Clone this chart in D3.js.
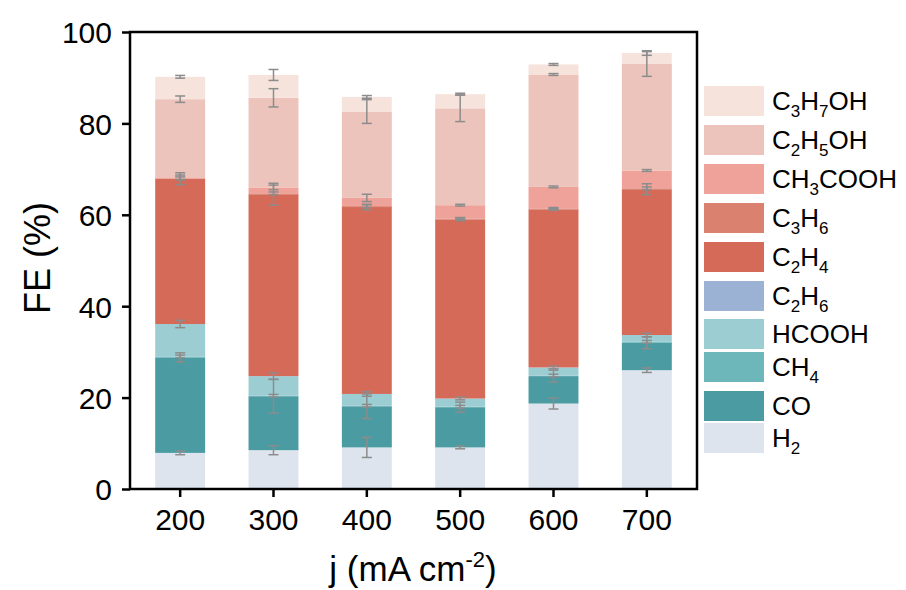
<!DOCTYPE html>
<html>
<head>
<meta charset="utf-8">
<script src="https://cdn.jsdelivr.net/npm/d3@7"></script>
<style>
  body { margin: 0; background: #fff; }
  text { font-family: "Liberation Sans", Arial, sans-serif; fill: #000; }
</style>
</head>
<body>
<div id="chart"></div>
<script>
// current densities
var categories = ["200", "300", "400", "500", "600", "700"];

// FE values (%) per product, bottom to top
var H2      = [7.9, 8.5, 9.1, 9.1, 18.7, 26.0];
var CO      = [20.9, 11.8, 9.0, 8.8, 6.0, 6.0];
var CH4     = [0.2, 0.1, 0.1, 0.1, 0.1, 0.2];
var HCOOH   = [7.1, 4.3, 2.6, 1.8, 1.8, 1.5];
var C2H6    = [0, 0, 0, 0, 0, 0];
var C2H4    = [31.8, 39.8, 40.9, 39.2, 34.6, 31.9];
var C3H6    = [0.1, 0.2, 0.2, 0.2, 0.2, 0.2];
var CH3COOH = [0.2, 1.3, 1.8, 2.9, 4.7, 3.9];
var C2H5OH  = [17.1, 19.6, 18.9, 21.2, 24.6, 23.3];
var C3H7OH  = [4.9, 5.0, 3.2, 3.1, 2.2, 2.4];

// error bars (±) at the top of each segment
var H2_err      = [0.4, 1.0, 2.2, 0.3, 1.2, 0.5];
var CO_err      = [1.0, 3.7, 2.7, 1.1, 1.3, 1.3];
var CH4_err     = [0.3, 0.3, 0.3, 0.3, 0.3, 0.3];
var HCOOH_err   = [0.8, 0.7, 0.5, 0.3, 0.3, 0.4];
var C2H6_err    = [0, 0, 0, 0, 0, 0];
var C2H4_err    = [1.3, 2.4, 0.6, 0.3, 0.2, 1.2];
var C3H6_err    = [0.3, 0.3, 0.3, 0.2, 0.2, 0.3];
var CH3COOH_err = [0.5, 0.5, 0.8, 0.2, 0.2, 0.2];
var C2H5OH_err  = [0.7, 2.0, 2.6, 2.9, 0.2, 2.7];
var C3H7OH_err  = [0.3, 1.2, 0.3, 0.2, 0.2, 0.5];

var yTicks = [0, 20, 40, 60, 80, 100];

// label parts: [text, isSubscript]
var series = [
    {key: "H2",      label: [["H",0],["2",1]],                         color: "#dee4ed", values: H2,      err: H2_err},
    {key: "CO",      label: [["CO",0]],                                color: "#4a9ba2", values: CO,      err: CO_err},
    {key: "CH4",     label: [["CH",0],["4",1]],                        color: "#6db6b9", values: CH4,     err: CH4_err},
    {key: "HCOOH",   label: [["HCOOH",0]],                             color: "#9ccdd3", values: HCOOH,   err: HCOOH_err},
    {key: "C2H6",    label: [["C",0],["2",1],["H",0],["6",1]],         color: "#9bb2d4", values: C2H6,    err: C2H6_err},
    {key: "C2H4",    label: [["C",0],["2",1],["H",0],["4",1]],         color: "#d56a58", values: C2H4,    err: C2H4_err},
    {key: "C3H6",    label: [["C",0],["3",1],["H",0],["6",1]],         color: "#db8170", values: C3H6,    err: C3H6_err},
    {key: "CH3COOH", label: [["CH",0],["3",1],["COOH",0]],             color: "#efa299", values: CH3COOH, err: CH3COOH_err},
    {key: "C2H5OH",  label: [["C",0],["2",1],["H",0],["5",1],["OH",0]], color: "#ecc4bb", values: C2H5OH,  err: C2H5OH_err},
    {key: "C3H7OH",  label: [["C",0],["3",1],["H",0],["7",1],["OH",0]], color: "#f6e4dc", values: C3H7OH,  err: C3H7OH_err}
];

// legend row centres (top to bottom: C3H7OH ... H2)
var legendY = [101, 140, 179, 218, 257, 296, 334, 367, 406, 438];

function drawChart() {
    var width = 906, height = 590;
    var mLeft = 130, mRight = 697, mTop = 32, mBottom = 489;

    var svg = d3.select("#chart").append("svg")
        .attr("width", width)
        .attr("height", height);

    var x = d3.scaleBand()
        .domain(categories)
        .range([mLeft, mRight])
        .paddingInner(0.465)
        .paddingOuter(0.27);

    var y = d3.scaleLinear()
        .domain([0, 100])
        .range([mBottom, mTop]);

    // stack the series
    var rows = categories.map(function(c, i) {
        var r = {cat: c};
        series.forEach(function(s) { r[s.key] = s.values[i]; });
        return r;
    });
    var stack = d3.stack().keys(series.map(function(s) { return s.key; }))(rows);

    var layers = svg.append("g").selectAll("g")
        .data(stack)
        .enter().append("g")
        .attr("fill", function(d, i) { return series[i].color; });

    layers.selectAll("rect")
        .data(function(d) { return d; })
        .enter().append("rect")
        .attr("x", function(d) { return x(d.data.cat); })
        .attr("width", x.bandwidth())
        .attr("y", function(d) { return y(d[1]); })
        .attr("height", function(d) { return y(d[0]) - y(d[1]); });

    // error bars
    var errG = svg.append("g")
        .attr("stroke", "#8c8c8c")
        .attr("stroke-width", 1.5)
        .attr("fill", "none");

    stack.forEach(function(layer, si) {
        var s = series[si];
        if (d3.max(s.values) === 0) return;
        layer.forEach(function(d, i) {
            var cx = x(d.data.cat) + x.bandwidth() / 2;
            var e = s.err[i];
            var y0 = y(d[1] - e), y1 = y(d[1] + e);
            errG.append("line").attr("x1", cx).attr("x2", cx).attr("y1", y0).attr("y2", y1);
            errG.append("line").attr("x1", cx - 5).attr("x2", cx + 5).attr("y1", y0).attr("y2", y0);
            errG.append("line").attr("x1", cx - 5).attr("x2", cx + 5).attr("y1", y1).attr("y2", y1);
        });
    });

    // frame
    svg.append("rect")
        .attr("x", mLeft).attr("y", mTop)
        .attr("width", mRight - mLeft).attr("height", mBottom - mTop)
        .attr("fill", "none")
        .attr("stroke", "#000")
        .attr("stroke-width", 2.5);

    // axes
    var yAxis = svg.append("g")
        .attr("transform", "translate(" + mLeft + ",0)")
        .call(d3.axisLeft(y).tickValues(yTicks).tickSize(8).tickPadding(10));

    var xAxis = svg.append("g")
        .attr("transform", "translate(0," + mBottom + ")")
        .call(d3.axisBottom(x).tickSize(8));

    [yAxis, xAxis].forEach(function(a) {
        a.select(".domain").remove();
        a.selectAll(".tick line").attr("stroke", "#000").attr("stroke-width", 2.5);
        a.selectAll(".tick text")
            .attr("fill", "#000")
            .style("font-family", "'Liberation Sans', Arial, sans-serif")
            .style("font-size", "30px");
    });
    yAxis.selectAll(".tick text").attr("dy", "0.36em");
    xAxis.selectAll(".tick text").attr("y", 41).attr("dy", 0);

    // axis titles
    svg.append("text")
        .attr("transform", "translate(50,258) rotate(-90)")
        .attr("text-anchor", "middle")
        .style("font-size", "36px")
        .text("FE (%)");

    var xt = svg.append("text")
        .attr("x", 413).attr("y", 581)
        .attr("text-anchor", "middle")
        .style("font-size", "35px");
    xt.append("tspan").text("j (mA cm");
    xt.append("tspan").attr("dy", -14).style("font-size", "22px").text("-2");
    xt.append("tspan").attr("dy", 14).text(")");

    // legend
    var legendSeries = series.slice().reverse();
    var leg = svg.append("g");
    legendSeries.forEach(function(s, i) {
        var cy = legendY[i];
        leg.append("rect")
            .attr("x", 704).attr("y", cy - 15)
            .attr("width", 60).attr("height", 30)
            .attr("fill", s.color);
        var t = leg.append("text")
            .attr("x", 772).attr("y", cy + 9)
            .style("font-size", "26px");
        var sub = false;
        s.label.forEach(function(p) {
            var ts = t.append("tspan").text(p[0]);
            if (p[1] && !sub) { ts.attr("dy", 7).style("font-size", "17px"); sub = true; }
            else if (p[1] && sub) { ts.style("font-size", "17px"); }
            else if (!p[1] && sub) { ts.attr("dy", -7); sub = false; }
        });
    });
}

drawChart();
</script>
</body>
</html>
